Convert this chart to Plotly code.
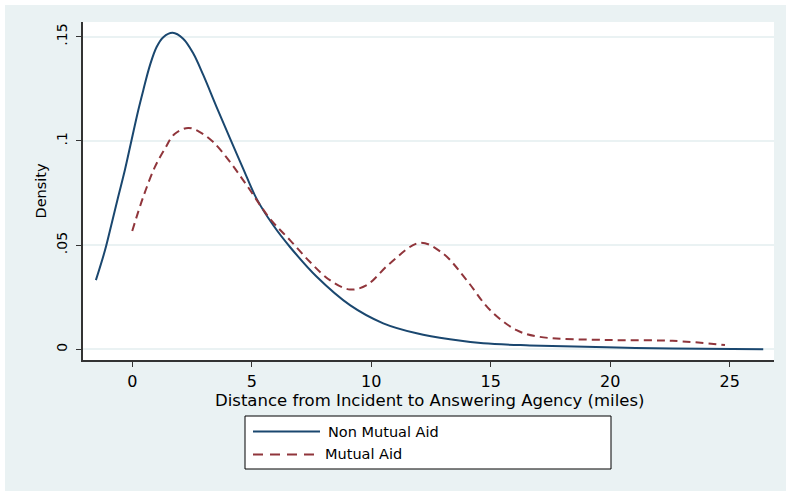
import plotly.graph_objects as go

# Non Mutual Aid density curve
nm_x = [-1.52, -1.14, -0.86, -0.59, -0.31, -0.03, 0.25, 0.46, 0.74, 1.02, 1.30, 1.69, 2.13,
        2.55, 2.97, 3.53, 4.09, 4.64, 5.2, 5.9, 6.6, 7.72, 9.11, 10.5, 11.9, 13.29, 14.69,
        16.64, 19.85, 22.6, 26.4]
nm_y = [0.0332, 0.0475, 0.0604, 0.0731, 0.0859, 0.1003, 0.1146, 0.1242, 0.1362, 0.145,
        0.1497, 0.1518, 0.149, 0.142, 0.1316, 0.1162, 0.1012, 0.0867, 0.0723, 0.0595,
        0.0491, 0.0348, 0.0212, 0.0125, 0.0077, 0.0048, 0.0029, 0.0019, 0.001, 0.0004, 0.0001]

# Mutual Aid density curve
ma_x = [0.0, 0.46, 0.95, 1.37, 1.76, 2.34, 2.83, 3.39, 4.09, 4.79, 5.76, 6.6, 7.43, 8.27,
        9.11, 9.81, 10.78, 12.04, 13.0, 13.99, 14.96, 16.08, 17.05, 19.85, 22.6, 24.8]
ma_y = [0.0568, 0.0731, 0.0875, 0.0963, 0.1032, 0.1062, 0.1042, 0.0994, 0.0899, 0.0787,
        0.0627, 0.0524, 0.042, 0.0332, 0.0287, 0.0308, 0.0412, 0.0511, 0.046, 0.0332,
        0.019, 0.0092, 0.006, 0.0045, 0.0041, 0.0021]

x_ticks = [0, 5, 10, 15, 20, 25]
y_ticks = [0, 0.05, 0.1, 0.15]
y_ticktext = ["0", ".05", ".1", ".15"]
series_names = ["Non Mutual Aid", "Mutual Aid"]
x_title = "Distance from Incident to Answering Agency (miles)"
y_title = "Density"

NAVY = "#1A476F"
MAROON = "#90353B"
BG = "#EAF2F3"
AX = "#333333"
FONT = "DejaVu Sans, Liberation Sans, sans-serif"

fig = go.Figure()
fig.add_trace(go.Scatter(x=nm_x, y=nm_y, mode="lines", name=series_names[0],
                         line=dict(color=NAVY, width=2, shape="spline", smoothing=1.0),
                         showlegend=False))
fig.add_trace(go.Scatter(x=ma_x, y=ma_y, mode="lines", name=series_names[1],
                         line=dict(color=MAROON, width=2, dash="8px,5px", shape="spline", smoothing=1.0),
                         showlegend=False))

W, H = 786, 491
L, R, T, B = 83, 12, 22, 131
pw, ph = W - L - R, H - T - B


def px_x(p):
    return (p - L) / pw


def px_y(p):
    return (H - B - p) / ph


shapes = [
    # white border at top/left of the image
    dict(type="rect", xref="paper", yref="paper", x0=px_x(-5), x1=px_x(5), y0=px_y(500), y1=px_y(-5),
         fillcolor="white", line=dict(width=0), layer="above"),
    dict(type="rect", xref="paper", yref="paper", x0=px_x(-5), x1=px_x(800), y0=px_y(5), y1=px_y(-5),
         fillcolor="white", line=dict(width=0), layer="above"),
    # legend box
    dict(type="rect", xref="paper", yref="paper", x0=px_x(245), x1=px_x(611), y0=px_y(469), y1=px_y(416),
         fillcolor="white", line=dict(color="black", width=1)),
    dict(type="line", xref="paper", yref="paper", x0=px_x(253), x1=px_x(320), y0=px_y(431.5), y1=px_y(431.5),
         line=dict(color=NAVY, width=2)),
    dict(type="line", xref="paper", yref="paper", x0=px_x(253), x1=px_x(318), y0=px_y(454.5), y1=px_y(454.5),
         line=dict(color=MAROON, width=2, dash="10px,7px")),
]

annotations = [
    dict(xref="paper", yref="paper", x=px_x(326), y=px_y(432), text=series_names[0], showarrow=False,
         xanchor="left", yanchor="middle", font=dict(family=FONT, size=14.5, color="black")),
    dict(xref="paper", yref="paper", x=px_x(323), y=px_y(453.5), text=series_names[1], showarrow=False,
         xanchor="left", yanchor="middle", font=dict(family=FONT, size=14.5, color="black")),
    # axis titles
    dict(xref="paper", yref="paper", x=px_x(429), y=px_y(400.5), text=x_title, showarrow=False,
         xanchor="center", yanchor="middle", font=dict(family=FONT, size=16.5, color="black")),
    dict(xref="paper", yref="paper", x=px_x(40.5), y=px_y(191), text=y_title, showarrow=False,
         textangle=-90, xanchor="center", yanchor="middle", font=dict(family=FONT, size=14.5, color="black")),
]

fig.update_layout(
    width=W, height=H,
    margin=dict(l=L, r=R, t=T, b=B, pad=0, autoexpand=False),
    paper_bgcolor=BG, plot_bgcolor="white",
    font=dict(family=FONT, size=15, color="black"),
    shapes=shapes, annotations=annotations,
    showlegend=False,
)
fig.update_xaxes(
    range=[-2.06, 26.85], tickvals=x_ticks, ticks="outside", ticklen=5, tickwidth=1.2,
    tickcolor=AX, showline=True, linecolor=AX, linewidth=1.5, showgrid=False, zeroline=False,
    tickfont=dict(size=16), ticklabelstandoff=1, automargin=False,
)
fig.update_yaxes(
    range=[-0.0051, 0.157], tickvals=y_ticks, ticktext=y_ticktext, tickangle=-90,
    ticks="outside", ticklen=5, tickwidth=1.2, tickcolor=AX, showline=True, linecolor=AX,
    linewidth=1.5, showgrid=True, gridcolor=BG, gridwidth=1.5, zeroline=False,
    tickfont=dict(size=14), ticklabelstandoff=4, automargin=False,
)

fig.write_html("out.html", config={"displayModeBar": False},
               post_script="document.body.style.margin='0px';document.body.style.overflow='hidden';")
